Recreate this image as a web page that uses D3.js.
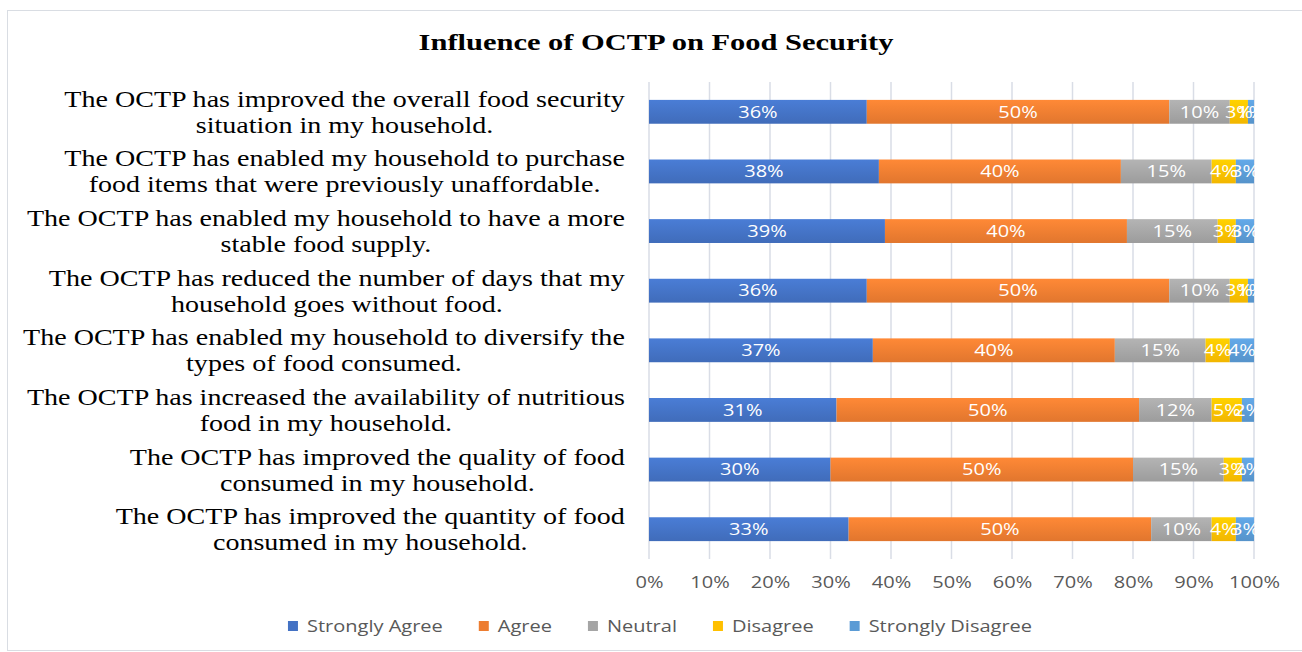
<!DOCTYPE html>
<html>
<head>
<meta charset="utf-8">
<script src="https://cdn.jsdelivr.net/npm/d3@7"></script>
<style>
  html, body { margin: 0; padding: 0; background: #fff; }
  svg { display: block; }
</style>
</head>
<body>
<div id="chart"></div>
<script>
const categories = [
  ["The OCTP has improved the overall food security", "situation in my household."],
  ["The OCTP has enabled my household to purchase", "food items that were previously unaffordable."],
  ["The OCTP has enabled my household to have a more", "stable food supply."],
  ["The OCTP has reduced the number of days that my", "household goes without food."],
  ["The OCTP has enabled my household to diversify the", "types of food consumed."],
  ["The OCTP has increased the availability of nutritious", "food in my household."],
  ["The OCTP has improved the quality of food", "consumed in my household."],
  ["The OCTP has improved the quantity of food", "consumed in my household."],
];

const seriesNames = ["Strongly Agree", "Agree", "Neutral", "Disagree", "Strongly Disagree"];
const stronglyAgree = [36, 38, 39, 36, 37, 31, 30, 33];
const agree = [50, 40, 40, 50, 40, 50, 50, 50];
const neutral = [10, 15, 15, 10, 15, 12, 15, 10];
const disagree = [3, 4, 3, 3, 4, 5, 3, 4];
const stronglyDisagree = [1, 3, 3, 1, 4, 2, 2, 3];
const xTicks = [0, 10, 20, 30, 40, 50, 60, 70, 80, 90, 100];

const COLORS = ["#4472c4", "#ed7d31", "#a5a5a5", "#ffc000", "#5b9bd5"];
const SANS = "'Open Sans', 'Liberation Sans', sans-serif";
const SERIF = "'Liberation Serif', 'Times New Roman', serif";
// the source image is stretched sideways, so text is widened to match
const STRETCH = 1.25;
const LABEL_STRETCH = 1.22;
const TITLE_STRETCH = 1.27;

const width = 1302;
const height = 652;
const margin = { top: 82, right: 48, bottom: 93, left: 649 };
const innerWidth = width - margin.left - margin.right;
const innerHeight = height - margin.top - margin.bottom;

const rows = categories.map((c, i) => ({
  label: c,
  values: [stronglyAgree[i], agree[i], neutral[i], disagree[i], stronglyDisagree[i]],
}));

const svg = d3.select("#chart")
  .append("svg")
  .attr("width", width)
  .attr("height", height);

// chart frame
svg.append("rect")
  .attr("x", 7.5)
  .attr("y", 10.5)
  .attr("width", width)
  .attr("height", height - 12)
  .attr("fill", "#fff")
  .attr("stroke", "#d9dde3");

const defs = svg.append("defs");
COLORS.forEach((c, i) => {
  const grad = defs.append("linearGradient")
    .attr("id", `grad${i}`)
    .attr("x1", 0).attr("x2", 0).attr("y1", 0).attr("y2", 1);
  grad.append("stop").attr("offset", "0%").attr("stop-color", d3.color(c).brighter(0.25));
  grad.append("stop").attr("offset", "100%").attr("stop-color", d3.color(c).darker(0.15));
});

svg.append("text")
  .attr("transform", `translate(656,50) scale(${TITLE_STRETCH},1)`)
  .attr("text-anchor", "middle")
  .attr("font-family", SERIF)
  .attr("font-weight", "bold")
  .attr("font-size", 24)
  .attr("fill", "#000")
  .text("Influence of OCTP on Food Security");

const g = svg.append("g")
  .attr("transform", `translate(${margin.left},${margin.top})`);

const x = d3.scaleLinear().domain([0, 100]).range([0, innerWidth]);
const y = d3.scaleBand()
  .domain(d3.range(rows.length))
  .range([0, innerHeight])
  .paddingInner(0.6)
  .paddingOuter(0.3);

// gridlines
g.append("g")
  .selectAll("line")
  .data(xTicks)
  .join("line")
  .attr("x1", (d) => x(d))
  .attr("x2", (d) => x(d))
  .attr("y1", 0)
  .attr("y2", innerHeight)
  .attr("stroke", "#d9dde6")
  .attr("stroke-width", 1.5);

// x axis labels
const axis = g.append("g")
  .attr("transform", `translate(0,${innerHeight})`)
  .call(d3.axisBottom(x).tickValues(xTicks).tickFormat((d) => d + "%").tickSize(0).tickPadding(18));
axis.select(".domain").remove();
axis.selectAll("text")
  .attr("transform", `scale(${STRETCH},1)`)
  .attr("font-family", SANS)
  .attr("font-size", 16)
  .attr("fill", "#595959");

// stacked bars
const rowG = g.selectAll(".row")
  .data(rows)
  .join("g")
  .attr("class", "row")
  .attr("transform", (d, i) => `translate(0,${y(i)})`);

rowG.each(function (row) {
  let acc = 0;
  const segs = row.values.map((v, k) => {
    const s = { start: acc, value: v, k };
    acc += v;
    return s;
  });
  const sel = d3.select(this);
  sel.selectAll("rect")
    .data(segs)
    .join("rect")
    .attr("x", (d) => x(d.start))
    .attr("y", 0)
    .attr("width", (d) => x(d.start + d.value) - x(d.start))
    .attr("height", y.bandwidth())
    .attr("fill", (d) => `url(#grad${d.k})`);
  sel.selectAll("text")
    .data(segs)
    .join("text")
    .attr("transform", (d) => `translate(${x(d.start + d.value / 2)},${y.bandwidth() / 2}) scale(${STRETCH},1)`)
    .attr("dy", "0.36em")
    .attr("text-anchor", "middle")
    .attr("font-family", SANS)
    .attr("font-size", 16)
    .attr("fill", "#fff")
    .text((d) => d.value + "%");
});

// category labels (right-aligned block, lines centred on each other)
const labelRight = 625;
const labels = svg.append("g");
rows.forEach((row, i) => {
  const cy = margin.top + y(i) + y.bandwidth() / 2;
  const t = labels.append("text")
    .attr("font-family", SERIF)
    .attr("font-size", 23)
    .attr("fill", "#000")
    .attr("text-anchor", "middle");
  const spans = t.selectAll("tspan")
    .data(row.label)
    .join("tspan")
    .attr("x", 0)
    .attr("y", (d, j) => cy + (j === 0 ? -13 : 13))
    .attr("dy", "0.35em")
    .text((d) => d);
  const maxW = d3.max(spans.nodes(), (n) => n.getComputedTextLength()) * LABEL_STRETCH;
  t.attr("transform", `translate(${labelRight - maxW / 2},0) scale(${LABEL_STRETCH},1)`);
});

// legend
const legend = svg.append("g");
let lx = 0;
seriesNames.forEach((name, i) => {
  const item = legend.append("g").attr("transform", `translate(${lx},0)`);
  item.append("rect")
    .attr("x", 0)
    .attr("y", -5)
    .attr("width", 10)
    .attr("height", 10)
    .attr("fill", COLORS[i]);
  const t = item.append("text")
    .attr("transform", `translate(19,0) scale(${STRETCH},1)`)
    .attr("dy", "0.35em")
    .attr("font-family", SANS)
    .attr("font-size", 16)
    .attr("fill", "#595959")
    .text(name);
  lx += 19 + t.node().getComputedTextLength() * STRETCH + 36;
});
const legendW = lx - 36;
legend.attr("transform", `translate(${660 - legendW / 2},626)`);
</script>
</body>
</html>
